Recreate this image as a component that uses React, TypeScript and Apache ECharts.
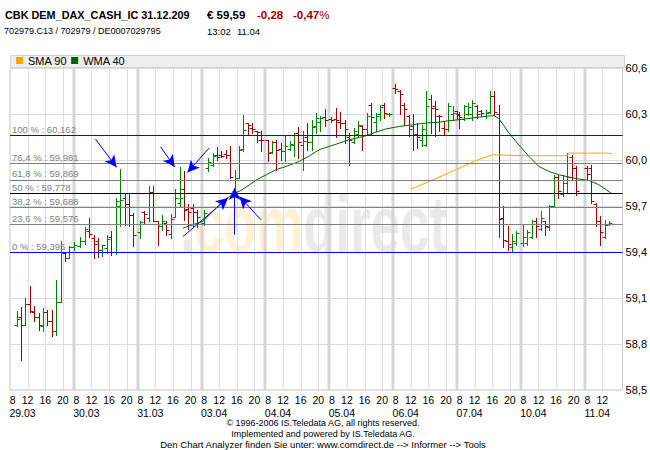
import React, { useEffect, useRef } from 'react';
import * as echarts from 'echarts';

const FONT = '"Liberation Sans", Arial, Helvetica, sans-serif';

// ---- axis / time layout data ----
const dayLabels = ['29.03', '30.03', '31.03', '03.04', '04.04', '05.04', '06.04', '07.04', '10.04', '11.04'];
const hourTicks = [8, 12, 16, 20];
const DAY_SPAN = 14.5; // trading hours per day on the axis (08:00 - 22:30)
const X_MAX = 139.1;
const Y_MIN = 58.5;
const Y_MAX = 60.6;
const Y_STEP = 0.3;

// ---- OHLC bars per day: [hour, open, high, low, close] ----
const bars2903 = [
  [9, 58.926, 59.013, 58.915, 58.965],
  [10, 58.976, 59.041, 58.698, 58.926],
  [11, 58.926, 59.1, 58.926, 59.063],
  [12, 59.063, 59.176, 59.007, 59.013],
  [13, 59.007, 59.046, 58.948, 58.976],
  [14, 58.976, 59.002, 58.893, 58.926],
  [15, 58.915, 59.035, 58.883, 59.007],
  [16, 59.007, 59.024, 58.926, 58.948],
  [17, 58.948, 59.024, 58.85, 58.883],
  [18, 58.883, 59.22, 58.861, 59.074],
  [19, 59.074, 59.47, 59.072, 59.398],
  [20, 59.394, 59.4, 59.339, 59.361],
  [21, 59.361, 59.437, 59.361, 59.433],
  [22, 59.433, 59.463, 59.415, 59.448],
];
const bars3003 = [
  [9, 59.44, 59.5, 59.435, 59.47],
  [10, 59.47, 59.56, 59.45, 59.55],
  [11, 59.535, 59.62, 59.5, 59.52],
  [12, 59.49, 59.51, 59.36, 59.45],
  [13, 59.47, 59.49, 59.37, 59.41],
  [14, 59.415, 59.447, 59.371, 59.443],
  [15, 59.426, 59.513, 59.393, 59.484],
  [16, 59.5, 59.534, 59.38, 59.4],
  [17, 59.4, 59.752, 59.39, 59.73],
  [18, 59.7, 59.94, 59.567, 59.74],
  [19, 59.75, 59.785, 59.574, 59.715],
  [20, 59.715, 59.785, 59.567, 59.643],
  [21, 59.643, 59.654, 59.436, 59.508],
];
const bars3103 = [
  [8, 59.53, 59.6, 59.49, 59.593],
  [9, 59.66, 59.665, 59.58, 59.65],
  [10, 59.62, 59.832, 59.6, 59.79],
  [11, 59.79, 59.83, 59.6, 59.6],
  [12, 59.6, 59.6, 59.447, 59.57],
  [13, 59.57, 59.643, 59.545, 59.6],
  [14, 59.59, 59.6, 59.51, 59.545],
  [15, 59.52, 59.65, 59.49, 59.615],
  [16, 59.63, 59.81, 59.63, 59.75],
  [17, 59.72, 59.955, 59.7, 59.75],
  [18, 59.81, 59.93, 59.61, 59.676],
  [19, 59.68, 59.71, 59.55, 59.66],
  [20, 59.69, 59.71, 59.57, 59.66],
  [21, 59.66, 59.675, 59.565, 59.63],
];
const bars0304 = [
  [8, 59.59, 59.676, 59.578, 59.654],
  [9, 59.95, 60.013, 59.926, 59.99],
  [10, 59.97, 60.045, 59.958, 60.028],
  [11, 60.03, 60.084, 60.002, 60.02],
  [12, 60.03, 60.06, 60.02, 60.025],
  [13, 60.039, 60.067, 60.013, 60.03],
  [14, 60.03, 60.089, 59.882, 59.889],
  [15, 59.8, 59.935, 59.784, 59.882],
  [16, 59.88, 60.089, 59.882, 60.067],
  [17, 60.07, 60.295, 60.06, 60.197],
  [18, 60.241, 60.241, 60.165, 60.23],
  [19, 60.21, 60.24, 60.176, 60.2],
  [20, 60.19, 60.19, 60.12, 60.18],
  [21, 60.13, 60.187, 60.056, 60.128],
];
const bars0404 = [
  [8, 60.13, 60.132, 59.991, 60.045],
  [9, 60.05, 60.121, 60.045, 60.12],
  [10, 60.12, 60.132, 59.937, 60.067],
  [11, 60.07, 60.11, 60.002, 60.06],
  [12, 60.06, 60.158, 59.991, 60.089],
  [13, 60.07, 60.121, 60.067, 60.106],
  [14, 60.1, 60.176, 60.024, 60.176],
  [15, 60.176, 60.215, 60.013, 60.12],
  [16, 60.1, 60.187, 59.937, 60.121],
  [17, 60.15, 60.241, 60.067, 60.12],
  [18, 60.12, 60.263, 60.067, 60.215],
  [19, 60.22, 60.306, 60.176, 60.274],
  [20, 60.25, 60.285, 60.187, 60.274],
  [21, 60.28, 60.33, 60.22, 60.263],
];
const bars0504 = [
  [8, 60.27, 60.28, 60.25, 60.263],
  [9, 60.27, 60.34, 60.15, 60.26],
  [10, 60.25, 60.31, 60.21, 60.24],
  [11, 60.24, 60.263, 60.111, 60.2],
  [12, 60.15, 60.176, 59.969, 60.132],
  [13, 60.12, 60.208, 60.111, 60.19],
  [14, 60.17, 60.252, 60.154, 60.23],
  [15, 60.22, 60.23, 60.067, 60.2],
  [16, 60.2, 60.306, 60.165, 60.29],
  [17, 60.36, 60.371, 60.165, 60.28],
  [18, 60.25, 60.306, 60.187, 60.285],
  [19, 60.3, 60.36, 60.263, 60.345],
  [20, 60.36, 60.371, 60.274, 60.306],
  [21, 60.3, 60.306, 60.285, 60.3],
];
const bars0604 = [
  [8, 60.47, 60.495, 60.437, 60.463],
  [9, 60.45, 60.455, 60.3, 60.43],
  [10, 60.36, 60.371, 60.23, 60.33],
  [11, 60.29, 60.295, 60.154, 60.2],
  [12, 60.22, 60.3, 60.067, 60.16],
  [13, 60.17, 60.24, 60.08, 60.15],
  [14, 60.13, 60.23, 60.09, 60.2],
  [15, 60.1, 60.447, 60.089, 60.35],
  [16, 60.4, 60.426, 60.176, 60.34],
  [17, 60.35, 60.382, 60.154, 60.33],
  [18, 60.29, 60.295, 60.187, 60.285],
  [19, 60.21, 60.25, 60.165, 60.2],
  [20, 60.2, 60.371, 60.187, 60.35],
  [21, 60.3, 60.35, 60.26, 60.307],
  [22, 60.32, 60.32, 60.27, 60.295],
];
const bars0704 = [
  [8, 60.3, 60.31, 60.21, 60.28],
  [9, 60.27, 60.36, 60.263, 60.35],
  [10, 60.3, 60.371, 60.295, 60.345],
  [11, 60.3, 60.393, 60.263, 60.371],
  [12, 60.35, 60.36, 60.274, 60.3],
  [13, 60.32, 60.328, 60.285, 60.306],
  [14, 60.29, 60.328, 60.274, 60.306],
  [15, 60.31, 60.447, 60.306, 60.415],
  [16, 60.42, 60.447, 60.295, 60.31],
  [17, 60.3, 60.36, 59.5, 59.615],
  [18, 59.62, 59.7, 59.43, 59.48],
  [19, 59.47, 59.57, 59.41, 59.455],
  [20, 59.43, 59.52, 59.4, 59.47],
  [21, 59.46, 59.535, 59.447, 59.525],
];
const bars1004 = [
  [8, 59.46, 59.578, 59.436, 59.5],
  [9, 59.46, 59.545, 59.447, 59.53],
  [10, 59.5, 59.61, 59.491, 59.58],
  [11, 59.6, 59.621, 59.5, 59.57],
  [12, 59.55, 59.665, 59.545, 59.62],
  [13, 59.6, 59.6, 59.513, 59.567],
  [14, 59.56, 59.708, 59.545, 59.697],
  [15, 59.7, 59.904, 59.697, 59.89],
  [16, 59.89, 59.904, 59.752, 59.8],
  [17, 59.78, 59.904, 59.763, 59.85],
  [18, 59.85, 60.045, 59.784, 59.89],
  [19, 60.02, 60.034, 59.871, 59.95],
  [20, 59.95, 59.958, 59.773, 59.8],
];
const bars1104 = [
  [8, 59.95, 59.958, 59.871, 59.91],
  [9, 59.95, 59.969, 59.719, 59.73],
  [10, 59.715, 59.719, 59.567, 59.6],
  [11, 59.6, 59.632, 59.447, 59.53],
  [12, 59.5, 59.61, 59.491, 59.575],
  [13, 59.58, 59.6, 59.578, 59.59],
];
const dayBars = [bars2903, bars3003, bars3103, bars0304, bars0404, bars0504, bars0604, bars0704, bars1004, bars1104];

// ---- indicators: [trading-hour position, value] ----
const wma40 = [
  [39.3, 59.556], [43.8, 59.6], [48.3, 59.73], [51.0, 59.784], [52.5, 59.802], [54.4, 59.839],
  [56.3, 59.876], [58.2, 59.904], [60.4, 59.937], [62.7, 59.958], [65.7, 59.991], [68.0, 60.027],
  [70.2, 60.067], [72.5, 60.089], [74.8, 60.11], [77.0, 60.132], [79.3, 60.147], [80.8, 60.158],
  [83.1, 60.182], [85.3, 60.202], [88.4, 60.219], [91.4, 60.23], [94.4, 60.241], [97.4, 60.247],
  [99.7, 60.256], [102.0, 60.263], [105.0, 60.274], [108.0, 60.285], [109.9, 60.289], [111.0, 60.27],
  [113.3, 60.176], [115.5, 60.1], [117.8, 60.024], [120.1, 59.958], [122.3, 59.926], [124.6, 59.904],
  [126.9, 59.889], [129.1, 59.876], [131.4, 59.867], [133.7, 59.839], [136.7, 59.78],
];
const sma90 = [
  [91.0, 59.81], [95.2, 59.86], [100.4, 59.926], [105.7, 59.995], [109.5, 60.034], [116.3, 60.028],
  [126.5, 60.028], [126.9, 60.045], [135.9, 60.045], [136.7, 60.04],
];

// ---- Fibonacci retracement levels ----
const fibPercents = [100, 76.4, 61.8, 50, 38.2, 23.6, 0];
const fibValues = [60.162, 59.981, 59.869, 59.778, 59.688, 59.576, 59.395];

// ---- annotation arrows: [from, to] in (trading-hour, price) ----
const arrows = [
  [[19.4, 60.137], [24.2, 59.952]],
  [[34.2, 60.085], [37.4, 59.954]],
  [[45.2, 60.078], [40.3, 59.919]],
  [[39.3, 59.501], [49.5, 59.752]],
  [[51.0, 59.513], [51.0, 59.817]],
  [[57.0, 59.61], [52.1, 59.762]],
];

const UP = '#008000';
const DOWN = '#990000';
const fmt = (v: number, d: number) => v.toFixed(d).replace('.', ',');

function buildOption() {
  const ohlc: number[][] = [];
  dayBars.forEach((bars, k) => {
    bars.forEach(([h, o, hi, lo, c]) => {
      ohlc.push([k * DAY_SPAN + (h - 8) + 0.5, o, hi, lo, c]);
    });
  });

  const grids: number[][] = [];
  const hourVals: number[] = [];
  const hourText = new Map<string, string>();
  const dateVals: number[] = [];
  const dateText = new Map<string, string>();
  dayLabels.forEach((d, k) => {
    hourTicks.forEach((h) => {
      const t = k * DAY_SPAN + (h - 8);
      if (t > X_MAX - 1) return;
      if (!(k === 0 && h === 8)) grids.push([t, Y_MIN, h === 8 ? 1 : 0]);
      const lt = t + (h === 8 ? 0.6 : 0);
      hourVals.push(lt);
      hourText.set(lt.toFixed(2), String(h));
    });
    const dt = k * DAY_SPAN + 2.85;
    dateVals.push(dt);
    dateText.set(dt.toFixed(2), d);
  });

  const fibColor = (p: number) => (p === 100 || p === 0 ? '#0000ff' : p === 50 ? '#000000' : '#808080');

  const baseX = {
    type: 'value',
    min: 0,
    max: X_MAX,
    position: 'bottom',
    axisLine: { show: false },
    axisTick: { show: false },
    splitLine: { show: false },
  };

  return {
    animation: false,
    textStyle: { fontFamily: FONT },
    grid: { left: 10, top: 68, width: 614, height: 322, show: true, borderColor: '#c8c8c8', borderWidth: 1 },
    legend: {
      data: ['SMA 90', 'WMA 40'],
      left: 16,
      top: 55,
      padding: 0,
      itemWidth: 7,
      itemHeight: 7,
      itemGap: 4,
      icon: 'rect',
      selectedMode: false,
      itemStyle: { borderWidth: 0 },
      textStyle: { fontSize: 11, color: '#000' },
    },
    xAxis: [
      {
        ...baseX,
        axisLabel: {
          customValues: hourVals,
          formatter: (v: number) => hourText.get(v.toFixed(2)) ?? '',
          fontSize: 10.5,
          color: '#000',
          margin: 4,
        },
      },
      {
        ...baseX,
        offset: 13,
        axisLabel: {
          customValues: dateVals,
          formatter: (v: number) => dateText.get(v.toFixed(2)) ?? '',
          fontSize: 10.5,
          color: '#000',
          margin: 4,
        },
      },
    ],
    yAxis: {
      type: 'value',
      position: 'right',
      min: Y_MIN,
      max: Y_MAX,
      interval: Y_STEP,
      axisLine: { show: false },
      axisTick: { show: false },
      splitLine: { lineStyle: { color: '#dcdcdc', width: 1 } },
      axisLabel: { margin: 3, fontSize: 11, color: '#000', formatter: (v: number) => fmt(v, 1) },
    },
    graphic: [
      {
        type: 'rect',
        z: 0,
        shape: { x: 10.5, y: 55.5, width: 614, height: 12 },
        style: { fill: '#eeeeee', stroke: '#d2d2d2', lineWidth: 1 },
      },
      {
        type: 'text',
        z: 0,
        x: 180,
        y: 224,
        scaleX: 0.8,
        scaleY: 1.21,
        silent: true,
        style: {
          text: '{g|.}{o|com}{g|direct}',
          verticalAlign: 'middle',
          rich: {
            g: { fill: '#eaeaea', font: `bold 66px ${FONT}` },
            o: { fill: '#fff1d4', font: `bold 66px ${FONT}` },
          },
        },
      },
      { type: 'text', z: 10, x: 5, y: 15.3, scaleX: 0.945, style: { text: 'CBK DEM_DAX_CASH_IC 31.12.209', font: `bold 11.5px ${FONT}`, fill: '#000', verticalAlign: 'middle' } },
      { type: 'text', z: 10, x: 207, y: 15.3, style: { text: '€ 59,59', font: `bold 11.5px ${FONT}`, fill: '#000', verticalAlign: 'middle' } },
      { type: 'text', z: 10, x: 257, y: 15.3, style: { text: '-0,28', font: `bold 11.5px ${FONT}`, fill: DOWN, verticalAlign: 'middle' } },
      {
        type: 'text', z: 10, x: 293, y: 15.3,
        style: {
          text: '{b|-0,47}{n|%}',
          verticalAlign: 'middle',
          rich: {
            b: { font: `bold 11.5px ${FONT}`, fill: DOWN },
            n: { font: `11.5px ${FONT}`, fill: DOWN },
          },
        },
      },
      { type: 'text', z: 10, x: 4, y: 31.3, style: { text: '702979.C13 / 702979 / DE0007029795', font: `9px ${FONT}`, fill: '#000', verticalAlign: 'middle' } },
      { type: 'text', z: 10, x: 207, y: 31.3, style: { text: '13:02', font: `9.5px ${FONT}`, fill: '#000', verticalAlign: 'middle' } },
      { type: 'text', z: 10, x: 237, y: 31.3, style: { text: '11.04', font: `9.5px ${FONT}`, fill: '#000', verticalAlign: 'middle' } },
      { type: 'text', z: 10, x: 323, y: 422.5, style: { text: '© 1996-2006 IS.Teledata AG, all rights reserved.', font: `9px ${FONT}`, fill: '#000', align: 'center', verticalAlign: 'middle' } },
      { type: 'text', z: 10, x: 323, y: 434, style: { text: 'Implemented and powered by IS.Teledata AG.', font: `9px ${FONT}`, fill: '#000', align: 'center', verticalAlign: 'middle' } },
      { type: 'text', z: 10, x: 323, y: 444.5, style: { text: 'Den Chart Analyzer finden Sie unter: www.comdirect.de --> Informer --> Tools', font: `9.5px ${FONT}`, fill: '#000', align: 'center', verticalAlign: 'middle' } },
    ],
    series: [
      {
        name: 'grid',
        type: 'custom',
        z: 1,
        silent: true,
        data: grids,
        encode: { x: 0, y: 1 },
        renderItem: (_p: any, api: any) => {
          const t = api.value(0);
          const thick = api.value(2) === 1;
          const a = api.coord([t, Y_MAX]);
          const b = api.coord([t, Y_MIN]);
          const x = thick ? Math.round(a[0]) : Math.round(a[0]) + 0.5;
          return {
            type: 'line',
            shape: { x1: x, y1: a[1], x2: x, y2: b[1] },
            style: { stroke: thick ? '#d6d6d6' : '#dedede', lineWidth: thick ? 3 : 1 },
          };
        },
      },
      {
        name: 'fib',
        type: 'line',
        z: 2,
        data: [],
        silent: true,
        markLine: {
          silent: true,
          symbol: ['none', 'none'],
          animation: false,
          label: {
            show: true,
            position: 'insideStartTop',
            formatter: '{b}',
            color: '#808080',
            fontSize: 9.5,
            distance: [2, 1],
          },
          emphasis: { disabled: true },
          data: fibValues.map((v, i) => ({
            yAxis: v,
            name: `${fmt(fibPercents[i], fibPercents[i] % 1 ? 1 : 0)} % : ${fmt(v, 3)}`,
            lineStyle: { color: fibColor(fibPercents[i]), width: 1, type: 'solid' },
          })),
        },
      },
      {
        name: 'ohlc',
        type: 'custom',
        z: 3,
        silent: true,
        data: ohlc,
        encode: { x: 0, y: [1, 2, 3, 4] },
        renderItem: (_p: any, api: any) => {
          const t = api.value(0);
          const o = api.value(1);
          const h = api.value(2);
          const l = api.value(3);
          const c = api.value(4);
          const top = api.coord([t, h]);
          const bot = api.coord([t, l]);
          const po = api.coord([t, o]);
          const pc = api.coord([t, c]);
          const x = Math.round(top[0]) + 0.5;
          const yo = Math.round(po[1]) + 0.5;
          const yc = Math.round(pc[1]) + 0.5;
          const style = { stroke: c >= o ? UP : DOWN, lineWidth: 1, fill: null };
          return {
            type: 'group',
            children: [
              { type: 'line', shape: { x1: x, y1: Math.round(top[1]), x2: x, y2: Math.round(bot[1]) + 1 }, style },
              { type: 'line', shape: { x1: x - 3, y1: yo, x2: x, y2: yo }, style },
              { type: 'line', shape: { x1: x, y1: yc, x2: x + 3, y2: yc }, style },
            ],
          };
        },
      },
      {
        name: 'SMA 90',
        type: 'line',
        z: 4,
        data: sma90,
        color: '#ffa500',
        showSymbol: false,
        symbol: 'none',
        silent: true,
        lineStyle: { color: '#ffa500', width: 1 },
      },
      {
        name: 'WMA 40',
        type: 'line',
        z: 4,
        data: wma40,
        color: '#006400',
        showSymbol: false,
        symbol: 'none',
        silent: true,
        lineStyle: { color: '#006400', width: 1 },
      },
      {
        name: 'arrows',
        type: 'line',
        z: 5,
        data: [],
        silent: true,
        markLine: {
          silent: true,
          animation: false,
          symbol: ['none', 'arrow'],
          symbolSize: [9, 12],
          label: { show: false },
          emphasis: { disabled: true },
          lineStyle: { color: '#0000ff', width: 1, type: 'solid' },
          data: arrows.map(([a, b]) => [{ coord: a }, { coord: b }]),
        },
      },
    ],
  };
}

export default function App() {
  const ref = useRef<HTMLDivElement>(null);
  useEffect(() => {
    if (!ref.current) return;
    const chart = echarts.init(ref.current, null, { renderer: 'svg' });
    chart.setOption(buildOption() as any);
    return () => chart.dispose();
  }, []);
  return (
    <div
      ref={ref}
      style={{ position: 'fixed', left: 0, top: 0, width: 650, height: 450, background: '#ffffff' }}
    />
  );
}
